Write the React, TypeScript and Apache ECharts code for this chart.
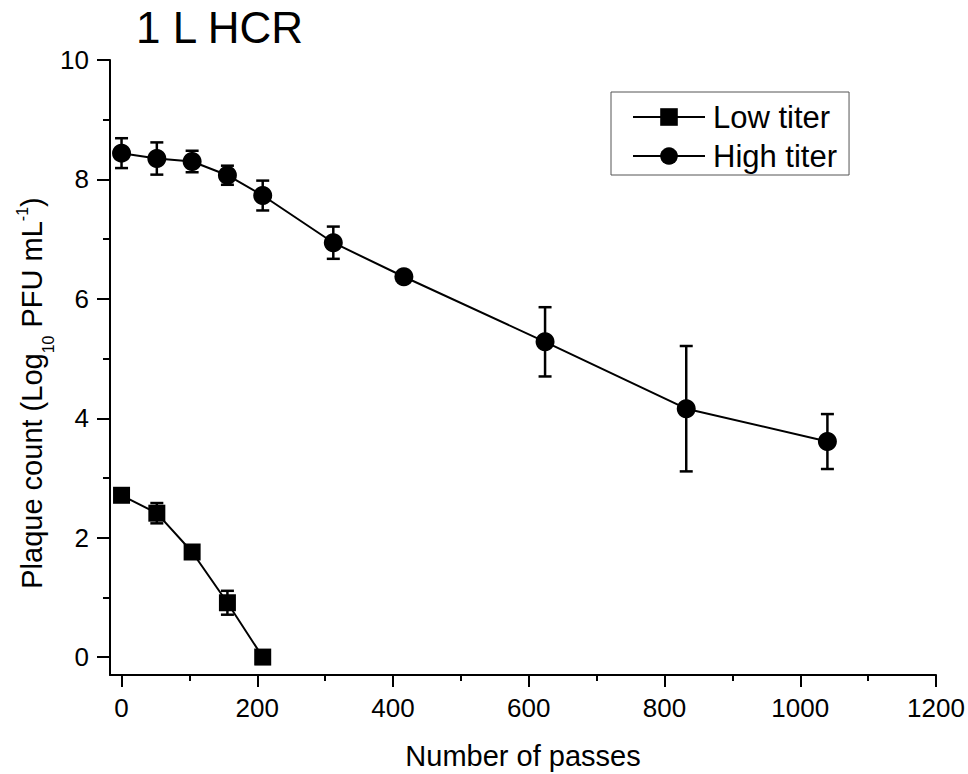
import React, { useEffect, useRef } from 'react';
import * as echarts from 'echarts';

const passesHigh = [0, 52, 104, 156, 208, 312, 416, 624, 832, 1040];
const highTiter = [8.44, 8.35, 8.3, 8.07, 7.73, 6.94, 6.37, 5.28, 4.16, 3.61];
const highErr = [0.25, 0.27, 0.18, 0.16, 0.25, 0.27, 0.05, 0.58, 1.05, 0.46];
const passesLow = [0, 52, 104, 156, 208];
const lowTiter = [2.71, 2.41, 1.76, 0.91, 0];
const lowErr = [0.05, 0.17, 0.05, 0.2, 0];
const xMajorTicks = [0, 200, 400, 600, 800, 1000, 1200];
const xMinorTicks = [100, 300, 500, 700, 900, 1100];
const yMajorTicks = [0, 2, 4, 6, 8, 10];
const yMinorTicks = [1, 3, 5, 7, 9];

const FONT = '"Liberation Sans", Arial, sans-serif';

function errorBarSeries(xs: number[], ys: number[], es: number[]) {
  return {
    type: 'custom',
    xAxisIndex: 0,
    yAxisIndex: 0,
    silent: true,
    z: 1,
    data: xs.map((x, i) => [x, ys[i], es[i]]),
    encode: { x: 0, y: 1 },
    renderItem: (_params: any, api: any) => {
      const x = api.value(0);
      const y = api.value(1);
      const e = api.value(2);
      if (!e) return { type: 'group', children: [] };
      const top = api.coord([x, y + e]);
      const bot = api.coord([x, y - e]);
      const hw = 6.5;
      const style = { stroke: '#000', lineWidth: 2.5 };
      return {
        type: 'group',
        children: [
          { type: 'line', shape: { x1: top[0], y1: top[1], x2: bot[0], y2: bot[1] }, style },
          { type: 'line', shape: { x1: top[0] - hw, y1: top[1], x2: top[0] + hw, y2: top[1] }, style },
          { type: 'line', shape: { x1: bot[0] - hw, y1: bot[1], x2: bot[0] + hw, y2: bot[1] }, style },
        ],
      };
    },
  };
}

export default function App() {
  const ref = useRef<HTMLDivElement>(null);
  useEffect(() => {
    document.body.style.margin = '0';
    const chart = echarts.init(ref.current!, null, { renderer: 'svg' });
    const axisLineStyle = { color: '#000', width: 2 };
    const fmt = (v: number) => String(v);
    chart.setOption({
      animation: false,
      backgroundColor: '#fff',
      color: ['#000'],
      grid: { left: 110, right: 32, top: 60, bottom: 99 },
      xAxis: [
        {
          type: 'value',
          min: -17,
          max: 1200,
          axisLine: { onZero: false, lineStyle: axisLineStyle },
          axisTick: { customValues: xMajorTicks, length: 12, lineStyle: axisLineStyle },
          axisLabel: { customValues: xMajorTicks, margin: 20, formatter: fmt, fontSize: 26, color: '#000', fontFamily: FONT },
          splitLine: { show: false },
        },
        {
          type: 'value',
          gridIndex: 0,
          position: 'bottom',
          min: -17,
          max: 1200,
          axisLine: { show: false, onZero: false },
          axisTick: { customValues: xMinorTicks, length: 6, lineStyle: axisLineStyle },
          axisLabel: { show: false },
          splitLine: { show: false },
        },
      ],
      yAxis: [
        {
          type: 'value',
          min: -0.3,
          max: 10,
          axisLine: { show: true, onZero: false, lineStyle: axisLineStyle },
          axisTick: { show: true, customValues: yMajorTicks, length: 13, lineStyle: axisLineStyle },
          axisLabel: { customValues: yMajorTicks, margin: 21, formatter: fmt, fontSize: 26, color: '#000', fontFamily: FONT },
          splitLine: { show: false },
        },
        {
          type: 'value',
          gridIndex: 0,
          position: 'left',
          min: -0.3,
          max: 10,
          axisLine: { show: false, onZero: false },
          axisTick: { show: true, customValues: yMinorTicks, length: 7, lineStyle: axisLineStyle },
          axisLabel: { show: false },
          splitLine: { show: false },
        },
      ],
      legend: {
        data: ['Low titer', 'High titer'],
        orient: 'vertical',
        left: 611,
        top: 92,
        itemWidth: 72,
        itemHeight: 22,
        itemGap: 3,
        padding: [7, 12, 1, 21],
        borderColor: '#555',
        borderWidth: 1,
        textStyle: { fontSize: 31, color: '#000', fontFamily: FONT, lineHeight: 36, padding: [0, 0, 0, 3] },
      },
      graphic: [
        {
          type: 'text',
          x: 136,
          y: 27,
          style: { text: '1 L HCR', fontSize: 44, fontFamily: FONT, fill: '#000', align: 'left', verticalAlign: 'middle' },
        },
        {
          type: 'text',
          x: 523,
          y: 756,
          style: { text: 'Number of passes', fontSize: 29, fontFamily: FONT, fill: '#000', align: 'center', verticalAlign: 'middle' },
        },
        {
          type: 'text',
          x: 32,
          y: 393,
          rotation: Math.PI / 2,
          style: {
            text: '{a|Plaque count (Log}{b|10}{a| PFU mL}{c|-1}{a|)}',
            align: 'center',
            verticalAlign: 'middle',
            fontFamily: FONT,
            fill: '#000',
            rich: {
              a: { fontSize: 29, fontFamily: FONT, fill: '#000', lineHeight: 34 },
              b: { fontSize: 16, fontFamily: FONT, fill: '#000', lineHeight: 34, padding: [32, 0, 0, 0] },
              c: { fontSize: 16, fontFamily: FONT, fill: '#000', lineHeight: 34, padding: [0, 0, 19, 0] },
            },
          },
        },
      ],
      series: [
        errorBarSeries(passesLow, lowTiter, lowErr),
        errorBarSeries(passesHigh, highTiter, highErr),
        {
          name: 'Low titer',
          type: 'line',
          xAxisIndex: 0,
          yAxisIndex: 0,
          data: passesLow.map((x, i) => [x, lowTiter[i]]),
          symbol: 'rect',
          symbolSize: 17,
          itemStyle: { color: '#000' },
          lineStyle: { color: '#000', width: 2 },
          z: 3,
        },
        {
          name: 'High titer',
          type: 'line',
          xAxisIndex: 0,
          yAxisIndex: 0,
          data: passesHigh.map((x, i) => [x, highTiter[i]]),
          symbol: 'circle',
          symbolSize: 19,
          itemStyle: { color: '#000' },
          lineStyle: { color: '#000', width: 2 },
          z: 3,
        },
      ],
    });
    return () => chart.dispose();
  }, []);
  return <div ref={ref} style={{ width: 968, height: 774 }} />;
}
